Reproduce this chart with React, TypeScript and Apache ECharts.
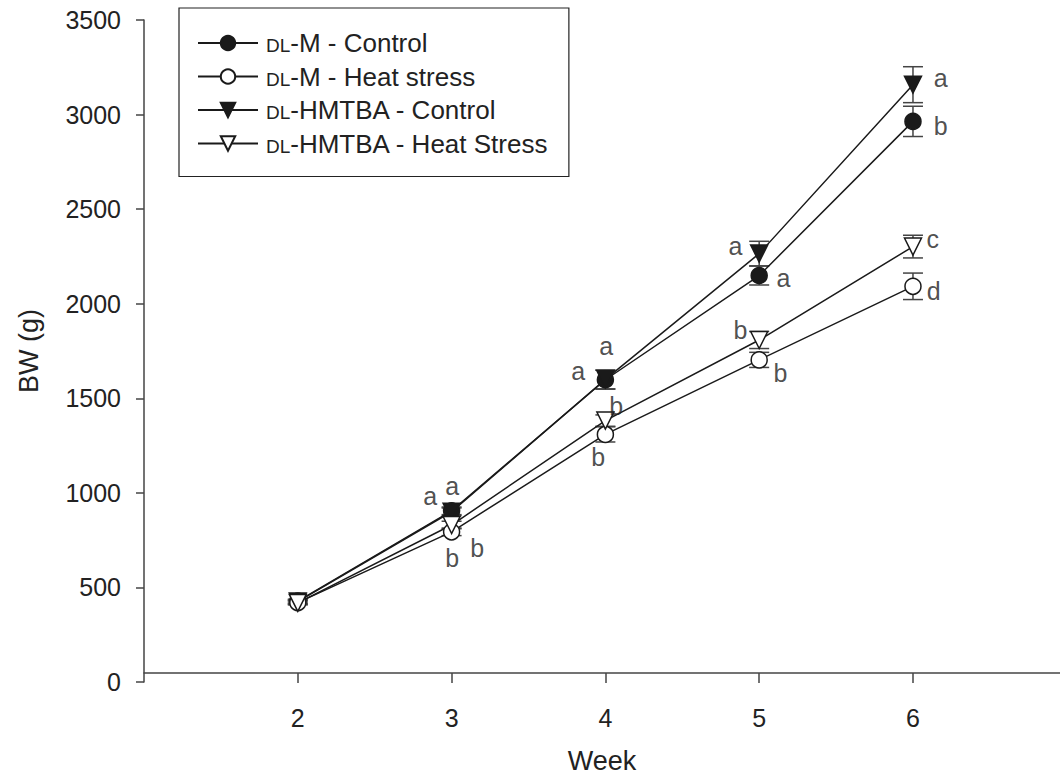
import React, { useEffect, useRef } from "react";
import * as echarts from "echarts";

const weeks = [2, 3, 4, 5, 6];
const seriesNames = [
  "DL-M - Control",
  "DL-M - Heat stress",
  "DL-HMTBA - Control",
  "DL-HMTBA - Heat Stress",
];
const mControl = [428, 905, 1598, 2149, 2964];
const mHeat = [420, 794, 1309, 1703, 2092];
const hControl = [425, 900, 1600, 2265, 3158];
const hHeat = [418, 830, 1382, 1808, 2302];

const mControlErr = [10, 20, 50, 50, 80];
const mHeatErr = [10, 20, 40, 40, 70];
const hControlErr = [10, 20, 50, 65, 95];
const hHeatErr = [10, 20, 30, 45, 60];

// letter annotations: [week, BW, letter]
const letterWeeks = [2.861, 3.004, 3.004, 3.167, 3.824, 4.006, 4.071, 3.954, 4.846, 5.158, 4.878, 5.139, 6.18, 6.18, 6.128, 6.134];
const letterValues = [983, 1035, 657, 710, 1645, 1776, 1461, 1188, 2307, 2134, 1860, 1634, 3195, 2938, 2344, 2065];
const letterTexts = ["a", "a", "b", "b", "a", "a", "b", "b", "a", "a", "b", "b", "a", "b", "c", "d"];

const yTicks = [0, 500, 1000, 1500, 2000, 2500, 3000, 3500];
const xMin = 1;
const xMax = 6.956;

const FONT = "'Liberation Sans', Arial, Helvetica, sans-serif";
const TEXT = "#222";
const AXIS = "#444";
const LINE = "#1a1a1a";

export default function App() {
  const ref = useRef<HTMLDivElement>(null);
  useEffect(() => {
    if (!ref.current) return;
    const chart = echarts.init(ref.current, undefined, { renderer: "svg" });

    const values = [mControl, mHeat, hControl, hHeat];
    const errs = [mControlErr, mHeatErr, hControlErr, hHeatErr];
    const filled = [true, false, true, false];
    const tri = [false, false, true, true];

    const lineSeries = values.map((vals, i) => ({
      type: "line",
      name: seriesNames[i],
      data: weeks.map((w, j) => [w, vals[j]]),
      symbol: tri[i] ? "triangle" : "circle",
      symbolRotate: tri[i] ? 180 : 0,
      symbolSize: tri[i] ? 17 : 16,
      showAllSymbol: true,
      z: 3,
      lineStyle: { color: LINE, width: 1.5 },
      itemStyle: {
        color: filled[i] ? LINE : "#ffffff",
        borderColor: LINE,
        borderWidth: 1.5,
        opacity: 1,
      },
    }));

    const errSeries = errs.map((e, i) => ({
      type: "custom",
      name: "err" + i,
      z: 1,
      data: weeks.map((w, j) => [w, values[i][j], e[j]]),
      renderItem: (params: any, api: any) => {
        const x = api.value(0);
        const y = api.value(1);
        const d = api.value(2);
        const top = api.coord([x, y + d]);
        const bot = api.coord([x, y - d]);
        const hw = 10;
        const style = { stroke: AXIS, lineWidth: 1.5 };
        return {
          type: "group",
          children: [
            { type: "line", shape: { x1: top[0], y1: top[1], x2: bot[0], y2: bot[1] }, style },
            { type: "line", shape: { x1: top[0] - hw, y1: top[1], x2: top[0] + hw, y2: top[1] }, style },
            { type: "line", shape: { x1: bot[0] - hw, y1: bot[1], x2: bot[0] + hw, y2: bot[1] }, style },
          ],
        };
      },
    }));

    const letterSeries = {
      type: "scatter",
      name: "letters",
      z: 5,
      symbolSize: 0,
      silent: true,
      data: letterWeeks.map((w, i) => ({ value: [w, letterValues[i]], name: letterTexts[i] })),
      label: {
        show: true,
        position: "inside",
        formatter: "{b}",
        color: TEXT,
        fontSize: 25,
        fontFamily: FONT,
      },
    };

    chart.setOption({
      animation: false,
      backgroundColor: "#ffffff",
      grid: { left: 144, top: 20, right: 0, height: 666, containLabel: false },
      legend: {
        data: seriesNames,
        orient: "vertical",
        left: 179,
        top: 8,
        padding: [22, 20, 20, 18],
        itemGap: 7.5,
        itemWidth: 60,
        itemHeight: 18,
        borderColor: "#222",
        borderWidth: 1.2,
        formatter: (n: string) => `{sc|DL}{t|${n.slice(2)}}`,
        textStyle: {
          color: TEXT,
          fontFamily: FONT,
          fontSize: 26,
          lineHeight: 24,
          padding: [0, 0, 0, 3],
          rich: {
            sc: { fontSize: 19, lineHeight: 19, verticalAlign: "bottom", fontFamily: FONT, color: TEXT },
            t: { fontSize: 26, lineHeight: 24, fontFamily: FONT, color: TEXT },
          },
        },
      },
      xAxis: {
        type: "value",
        min: xMin,
        max: xMax,
        interval: 1,
        offset: -9,
        name: "Week",
        nameLocation: "middle",
        nameGap: 74,
        nameTextStyle: { color: TEXT, fontFamily: FONT, fontSize: 27 },
        splitLine: { show: false },
        axisLine: { lineStyle: { color: AXIS, width: 1.5 } },
        axisTick: { length: 10, customValues: weeks, lineStyle: { color: AXIS, width: 1.5 } },
        axisLabel: {
          margin: 32,
          color: TEXT,
          fontFamily: FONT,
          fontSize: 25,
          customValues: weeks,
          formatter: (v: number) => String(v),
        },
      },
      yAxis: {
        type: "value",
        min: yTicks[0],
        max: yTicks[yTicks.length - 1],
        interval: 500,
        name: "BW (g)",
        nameLocation: "middle",
        nameGap: 102,
        nameTextStyle: { color: TEXT, fontFamily: FONT, fontSize: 27 },
        splitLine: { show: false },
        axisLine: { show: true, lineStyle: { color: AXIS, width: 1.5 } },
        axisTick: { show: true, length: 8, lineStyle: { color: AXIS, width: 1.5 } },
        axisLabel: {
          margin: 23,
          color: TEXT,
          fontFamily: FONT,
          fontSize: 25,
          formatter: (v: number) => String(v),
        },
      },
      series: [...errSeries, ...lineSeries, letterSeries],
    });

    return () => chart.dispose();
  }, []);

  return (
    <div
      ref={ref}
      style={{ position: "fixed", left: 0, top: 0, width: 1060, height: 779, background: "#fff" }}
    />
  );
}
